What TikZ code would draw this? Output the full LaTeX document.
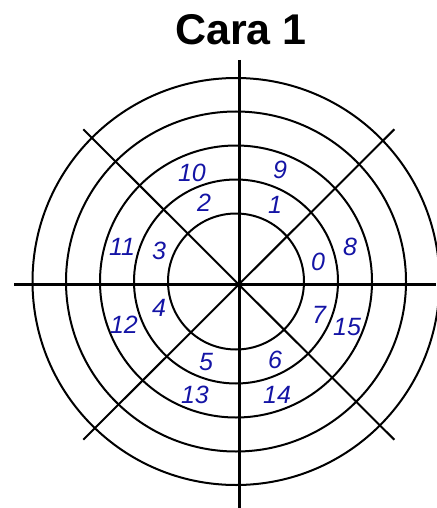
\documentclass[tikz,border=0pt]{standalone}
\usepackage{fontspec}
\setmainfont{Liberation Sans}
\usepackage{xcolor}
\definecolor{numblue}{RGB}{20,20,165}

\begin{document}
\begin{tikzpicture}[x=1pt, y=-1pt,
  ring/.style={draw, line width=2pt},
  axisline/.style={line width=2.7pt},
  diagline/.style={line width=2pt},
  num/.style={font=\fontsize{25}{25}\selectfont\itshape, text=numblue, inner sep=0pt},
  heading/.style={font=\fontsize{43}{43}\selectfont\bfseries, inner sep=0pt}]

\useasboundingbox (0,0) rectangle (436,508);

\node[heading, anchor=base] (title) at (241,45) {Cara 1};

% rings
\foreach \r in {68,102,136,170,203.5}
  \draw[ring] (236,281.5) circle[radius=\r pt];

% axes and diagonals
\draw[axisline] (239.3,60) -- (239.3,508);
\draw[axisline] (14,284.7) -- (436,284.7);
\draw[diagline] (83.3,129.3) -- (394.3,439.7);
\draw[diagline] (394.3,129.3) -- (83.3,439.7);

% sector numbers
\node[num] (n0)  at (318,262) {0};
\node[num] (n1)  at (275,205) {1};
\node[num] (n2)  at (204,203) {2};
\node[num] (n3)  at (159,251) {3};
\node[num] (n4)  at (159,308) {4};
\node[num] (n5)  at (206,362) {5};
\node[num] (n6)  at (275,360) {6};
\node[num] (n7)  at (319,315) {7};
\node[num] (n8)  at (350,247) {8};
\node[num] (n9)  at (280,170) {9};
\node[num] (n10) at (192,173) {10};
\node[num] (n11) at (122,247) {11};
\node[num] (n12) at (124,325) {12};
\node[num] (n13) at (195,395) {13};
\node[num] (n14) at (277,395) {14};
\node[num] (n15) at (347,327) {15};
\end{tikzpicture}
\end{document}
